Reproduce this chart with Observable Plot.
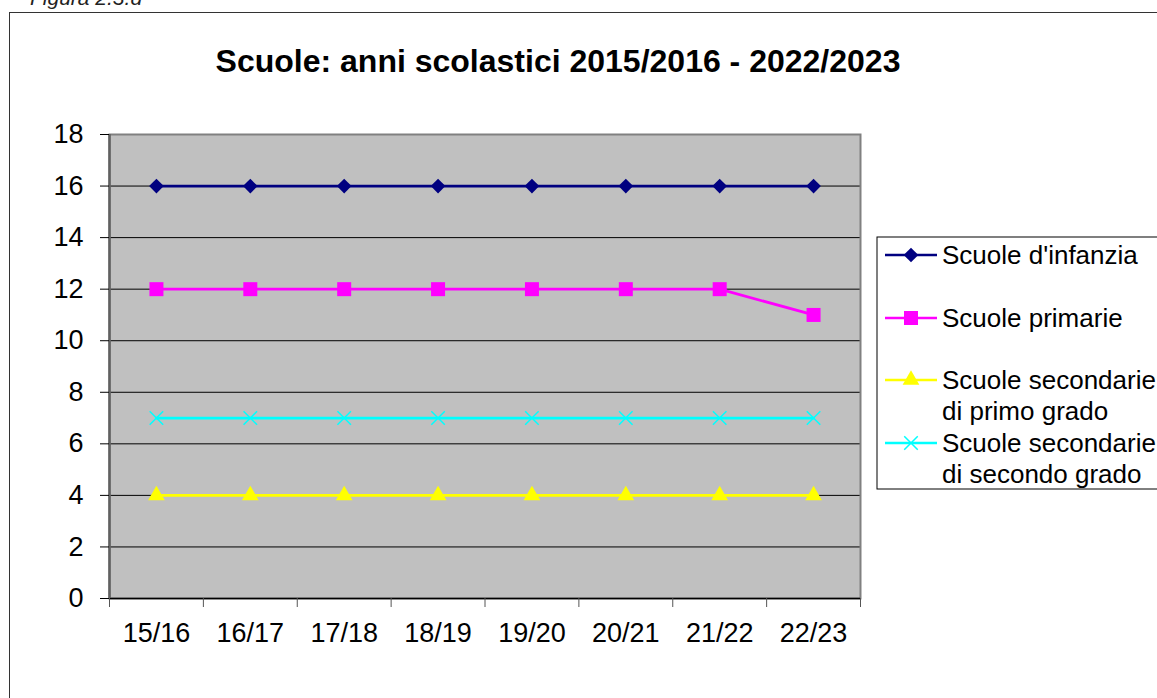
<!DOCTYPE html>
<html>
<head>
<meta charset="utf-8">
<script src="https://cdn.jsdelivr.net/npm/d3@7"></script>
<script src="https://cdn.jsdelivr.net/npm/@observablehq/plot@0.6"></script>
<style>
  html, body { margin: 0; padding: 0; background: #fff; }
  #wrap { position: relative; width: 1157px; height: 698px; overflow: hidden; background: #fff; font-family: "Liberation Sans", Arial, sans-serif; }
  #border { position: absolute; left: 9px; top: 12px; width: 1300px; height: 900px; border: 1.5px solid #333; box-sizing: border-box; }
  #chart { position: absolute; left: 0; top: 0; }
  #overlay { position: absolute; left: 0; top: 0; pointer-events: none; }
</style>
</head>
<body>
<div id="wrap">
  <div id="border"></div>
  <div id="chart"></div>
  <svg id="overlay" width="1157" height="698"></svg>
</div>
<script>
// ---- data ----
const categories = ["15/16", "16/17", "17/18", "18/19", "19/20", "20/21", "21/22", "22/23"];
const seriesNames = ["Scuole d'infanzia", "Scuole primarie", "Scuole secondarie di primo grado", "Scuole secondarie di secondo grado"];
const legendLines = [["Scuole d'infanzia"], ["Scuole primarie"], ["Scuole secondarie", "di primo grado"], ["Scuole secondarie", "di secondo grado"]];
const infanzia = [16, 16, 16, 16, 16, 16, 16, 16];
const primarie = [12, 12, 12, 12, 12, 12, 12, 11];
const secPrimo = [4, 4, 4, 4, 4, 4, 4, 4];
const secSecondo = [7, 7, 7, 7, 7, 7, 7, 7];
const yTicks = [0, 2, 4, 6, 8, 10, 12, 14, 16, 18];
const titleText = "Scuole: anni scolastici 2015/2016 - 2022/2023";
const captionText = "Figura 2.3.d";

// ---- styles ----
const colors = ["#000080", "#ff00ff", "#ffff00", "#00ffff"];
const symbols = ["diamond2", "square", "triangle", "times"];
const radii = [6.6, 7.9, 6.2, 6.2];
const allValues = [infanzia, primarie, secPrimo, secSecondo];

const rows = [];
seriesNames.forEach((s, si) => {
  allValues[si].forEach((v, i) => rows.push({series: s, si, year: categories[i], idx: i, value: v}));
});

const xPos = d => d.idx + 0.5;

const marks = [
  Plot.frame({fill: "#c0c0c0", stroke: null}),
  Plot.gridY(yTicks, {stroke: "#000", strokeOpacity: 1, strokeWidth: 1}),
  Plot.frame({stroke: "#808080", strokeWidth: 2, fill: null}),
  Plot.ruleY([0], {stroke: "#000", strokeWidth: 1.5}),
  Plot.ruleX([0], {stroke: "#606060", strokeWidth: 2.5}),
  Plot.axisY(yTicks, {tickSize: 9, tickPadding: 17, fontSize: 27, tickFormat: d => String(d), stroke: "#000", label: null}),
  Plot.axisX(d3.range(categories.length + 1), {tickSize: 9, tickFormat: () => "", stroke: "#555", label: null}),
  Plot.axisX(categories.map((c, i) => i + 0.5), {tickSize: 0, tickPadding: 24, fontSize: 27, tickFormat: d => categories[Math.floor(d)], label: null})
];

seriesNames.forEach((s, si) => {
  const data = rows.filter(r => r.si === si);
  marks.push(Plot.line(data, {x: xPos, y: "value", stroke: colors[si], strokeWidth: 2.75}));
});
seriesNames.forEach((s, si) => {
  const data = rows.filter(r => r.si === si);
  if (symbols[si] === "times") {
    marks.push(Plot.dot(data, {x: xPos, y: "value", symbol: symbols[si], r: radii[si], stroke: colors[si], strokeWidth: 1.5}));
  } else {
    marks.push(Plot.dot(data, {x: xPos, y: "value", symbol: symbols[si], r: radii[si], fill: colors[si], stroke: null}));
  }
});

const chart = Plot.plot({
  width: 1157,
  height: 698,
  marginLeft: 109,
  marginRight: 297,
  marginTop: 134,
  marginBottom: 100,
  style: {fontFamily: "'Liberation Sans', Arial, sans-serif", color: "#000", background: "transparent", overflow: "visible"},
  x: {type: "linear", domain: [0, categories.length], axis: null},
  y: {domain: [0, 18], axis: null},
  marks
});
document.getElementById("chart").appendChild(chart);

// ---- overlay: caption, title, legend ----
const ov = d3.select("#overlay");
ov.append("text").attr("x", 30).attr("y", 5)
  .attr("font-family", "'Liberation Sans', Arial, sans-serif").attr("font-style", "italic")
  .attr("font-size", 21).attr("fill", "#222").text(captionText);
ov.append("text").attr("x", 558).attr("y", 72).attr("text-anchor", "middle")
  .attr("font-family", "'Liberation Sans', Arial, sans-serif").attr("font-weight", "bold")
  .attr("font-size", 32).attr("fill", "#000").text(titleText);

const lg = ov.append("g");
lg.append("rect").attr("x", 877).attr("y", 237).attr("width", 400).attr("height", 252)
  .attr("fill", "#fff").attr("stroke", "#000").attr("stroke-width", 1);
const rowY = [255, 318, 380, 443];
const symMap = {diamond2: d3.symbolDiamond2, square: d3.symbolSquare, triangle: d3.symbolTriangle, times: d3.symbolTimes};
seriesNames.forEach((s, si) => {
  const y = rowY[si];
  lg.append("line").attr("x1", 885).attr("x2", 937).attr("y1", y).attr("y2", y)
    .attr("stroke", colors[si]).attr("stroke-width", 2.5);
  const path = d3.symbol(symMap[symbols[si]], Math.PI * radii[si] * radii[si])();
  const p = lg.append("path").attr("d", path).attr("transform", `translate(911,${y})`);
  if (symbols[si] === "times") p.attr("fill", "none").attr("stroke", colors[si]).attr("stroke-width", 1.5);
  else p.attr("fill", colors[si]);
  legendLines[si].forEach((t, li) => {
    lg.append("text").attr("x", 942).attr("y", y + li * 31).attr("dy", "0.36em")
      .attr("font-family", "'Liberation Sans', Arial, sans-serif").attr("font-size", 26)
      .attr("fill", "#000").text(t);
  });
});
</script>
</body>
</html>
